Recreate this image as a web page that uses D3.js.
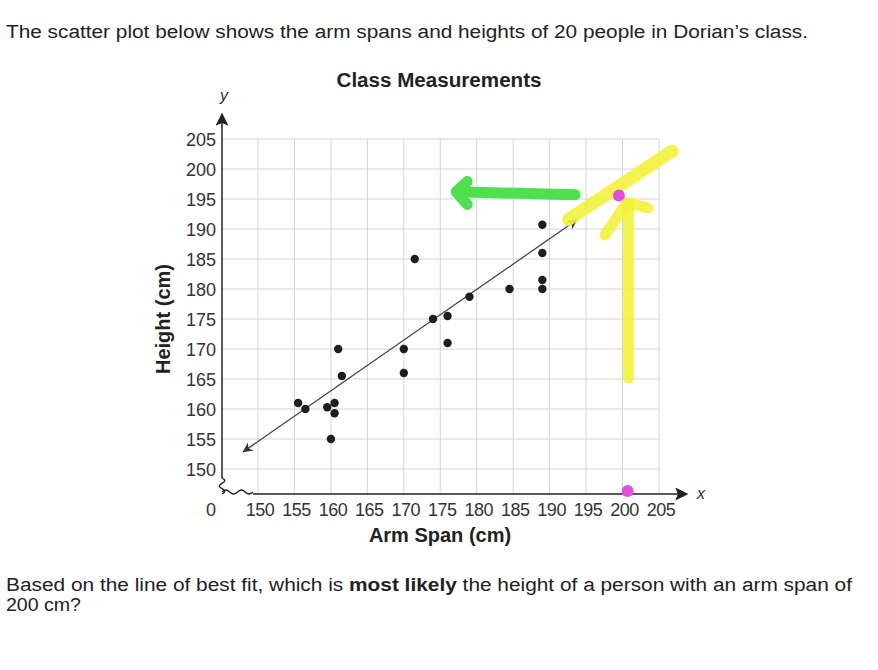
<!DOCTYPE html>
<html><head><meta charset="utf-8">
<script src="https://cdn.jsdelivr.net/npm/d3@7"></script>
<style>body{margin:0;background:#fff}</style>
</head><body><svg id="c" width="878" height="670"></svg>
<script>
// ---- data ----
const armSpan = [155.5,156.5,159.5,160.5,160.5,160,161,161.5,170,170,174,171.5,176,176,179,184.5,189,189,189,189];
const heightCm = [161,160,160.3,161,159.3,155,170,165.5,170,166,175,185,175.5,171,178.7,180,180,181.5,186,190.7];
const xTicks = [150,155,160,165,170,175,180,185,190,195,200,205];
const yTicks = [150,155,160,165,170,175,180,185,190,195,200,205];
const fitStart = [148, 152.9];
const fitEnd = [193.7, 191.5];
const answerPoint = [199.5, 195.6];
const axisMark = [200.7];
const yellowDiag = [[192.6,191.6],[206.8,203]];
const yellowUp = [[200.8,165.2],[200.8,194.3]];
const yellowHead = [[197.6,189],[200.6,194.4],[203.5,193.5]];
const greenArrow = [[193.5,195.7],[177.2,196.2]];
const greenHead = [[178.7,197.9],[177.2,196.2],[178.7,194.1]];

const svg = d3.select('#c');
const x = d3.scaleLinear().domain([150,205]).range([258,659]);
const y = d3.scaleLinear().domain([150,205]).range([469,139]);
const axisX = 222, axisY = 494;
const font = 'Liberation Sans, Arial, Helvetica, sans-serif';

// header text
svg.append('text').attr('x',6).attr('y',38).attr('font-family',font).attr('font-size',18)
  .attr('fill','#222').attr('textLength',802).attr('lengthAdjust','spacingAndGlyphs')
  .text('The scatter plot below shows the arm spans and heights of 20 people in Dorian\u2019s class.');

const q = svg.append('text').attr('x',6).attr('y',591).attr('font-family',font).attr('font-size',18)
  .attr('fill','#222').attr('textLength',846).attr('lengthAdjust','spacingAndGlyphs');
q.append('tspan').text('Based on the line of best fit, which is ');
q.append('tspan').attr('font-weight','bold').text('most likely');
q.append('tspan').text(' the height of a person with an arm span of');
svg.append('text').attr('x',6).attr('y',611).attr('font-family',font).attr('font-size',18)
  .attr('fill','#222').attr('textLength',75).attr('lengthAdjust','spacingAndGlyphs').text('200 cm?');

// title
svg.append('text').attr('x',439).attr('y',87).attr('text-anchor','middle').attr('font-family',font)
  .attr('font-size',20).attr('font-weight','bold').attr('fill','#222')
  .attr('textLength',205).attr('lengthAdjust','spacingAndGlyphs').text('Class Measurements');

// grid
const g = svg.append('g');
g.selectAll('line.v').data(xTicks).join('line')
  .attr('x1',d=>x(d)).attr('x2',d=>x(d)).attr('y1',y(205)).attr('y2',axisY)
  .attr('stroke','#d4d4d4').attr('stroke-width',1);
g.selectAll('line.h').data(yTicks).join('line')
  .attr('y1',d=>y(d)).attr('y2',d=>y(d)).attr('x1',axisX).attr('x2',x(205))
  .attr('stroke','#d4d4d4').attr('stroke-width',1);

// markers
const defs = svg.append('defs');
defs.append('marker').attr('id','ah').attr('viewBox','0 0 10 10').attr('refX',9).attr('refY',5)
  .attr('markerWidth',10).attr('markerHeight',10).attr('markerUnits','userSpaceOnUse').attr('orient','auto-start-reverse')
  .append('path').attr('d','M0,0 L10,5 L0,10 L3,5 Z').attr('fill','#333');
defs.append('marker').attr('id','axh').attr('viewBox','0 0 10 10').attr('refX',9).attr('refY',5)
  .attr('markerWidth',13).attr('markerHeight',13).attr('markerUnits','userSpaceOnUse').attr('orient','auto')
  .append('path').attr('d','M0,0 L10,5 L0,10 L2,5 Z').attr('fill','#222');

// axes with breaks
const breakEnd = 253;
const xw = d3.range(0, 17).map(i => [axisX + i/16*(breakEnd-axisX), axisY - 2 - Math.sin(i/16*Math.PI*4)*2.2]);
svg.append('path').attr('d', d3.line().curve(d3.curveBasis)(xw)).attr('fill','none').attr('stroke','#222').attr('stroke-width',1.4);
svg.append('line').attr('x1',breakEnd).attr('x2',687).attr('y1',axisY).attr('y2',axisY)
  .attr('stroke','#222').attr('stroke-width',1.5).attr('marker-end','url(#axh)');
const yw = d3.range(0,13).map(i=>[axisX + Math.sin(i/12*Math.PI*3)*3, axisY - 16 + i/12*16]);
svg.append('path').attr('d', d3.line().curve(d3.curveBasis)(yw)).attr('fill','none').attr('stroke','#222').attr('stroke-width',1.4);
svg.append('line').attr('x1',axisX).attr('x2',axisX).attr('y1',axisY-16).attr('y2',114)
  .attr('stroke','#222').attr('stroke-width',1.5).attr('marker-end','url(#axh)');

svg.append('text').attr('x',axisX+2).attr('y',101).attr('text-anchor','middle').attr('font-family',font)
  .attr('font-size',16).attr('font-style','italic').attr('fill','#333').text('y');
svg.append('text').attr('x',697).attr('y',499).attr('font-family',font)
  .attr('font-size',16).attr('font-style','italic').attr('fill','#333').text('x');

// tick labels
svg.selectAll('text.yt').data(yTicks).join('text').attr('class','yt')
  .attr('x',216).attr('y',d=>y(d)+6.5).attr('text-anchor','end').attr('font-family',font)
  .attr('font-size',18).attr('fill','#333').text(d=>d);
svg.selectAll('text.xt').data(xTicks).join('text').attr('class','xt')
  .attr('x',d=>x(d)+2).attr('y',516).attr('text-anchor','middle').attr('font-family',font)
  .attr('font-size',18).attr('letter-spacing',-0.5).attr('fill','#333').text(d=>d);
svg.append('text').attr('x',211).attr('y',516).attr('text-anchor','middle').attr('font-family',font)
  .attr('font-size',18).attr('fill','#333').text('0');

// axis titles
svg.append('text').attr('x',440).attr('y',542).attr('text-anchor','middle').attr('font-family',font)
  .attr('font-size',20).attr('font-weight','bold').attr('fill','#222').text('Arm Span (cm)');
svg.append('text').attr('transform','translate(170,319) rotate(-90)').attr('text-anchor','middle').attr('font-family',font)
  .attr('font-size',20).attr('font-weight','bold').attr('fill','#222').text('Height (cm)');

// best fit line
svg.append('line').attr('x1',x(fitStart[0])).attr('y1',y(fitStart[1])).attr('x2',x(fitEnd[0])).attr('y2',y(fitEnd[1]))
  .attr('stroke','#444').attr('stroke-width',1.3)
  .attr('marker-start','url(#ah)').attr('marker-end','url(#ah)');

// points
svg.selectAll('circle.pt').data(armSpan.map((a,i)=>[a,heightCm[i]])).join('circle')
  .attr('cx',d=>x(d[0])).attr('cy',d=>y(d[1])).attr('r',4.2).attr('fill','#1e1e1e');

// annotations
const ln = d3.line().x(d=>x(d[0])).y(d=>y(d[1]));
svg.append('path').attr('d',ln(yellowDiag)).attr('stroke','#f2f23c').attr('stroke-width',13)
  .attr('stroke-linecap','round').attr('fill','none').attr('opacity',0.9);
svg.append('path').attr('d',ln(yellowUp)).attr('stroke','#f2f23c').attr('stroke-width',11)
  .attr('stroke-linecap','round').attr('fill','none').attr('opacity',0.9);
svg.append('path').attr('d',ln(yellowHead)).attr('stroke','#f2f23c').attr('stroke-width',11)
  .attr('stroke-linecap','round').attr('stroke-linejoin','round').attr('fill','none').attr('opacity',0.9);
svg.append('path').attr('d',ln(greenArrow)).attr('stroke','#4fe04f').attr('stroke-width',11)
  .attr('stroke-linecap','round').attr('fill','none');
svg.append('path').attr('d',ln(greenHead)).attr('stroke','#4fe04f').attr('stroke-width',11)
  .attr('stroke-linecap','round').attr('stroke-linejoin','round').attr('fill','none');

svg.append('circle').attr('cx',x(answerPoint[0])).attr('cy',y(answerPoint[1])).attr('r',6).attr('fill','#e04fe0');
svg.append('circle').attr('cx',x(axisMark[0])).attr('cy',axisY-3).attr('r',6).attr('fill','#e04fe0');
</script></body></html>
